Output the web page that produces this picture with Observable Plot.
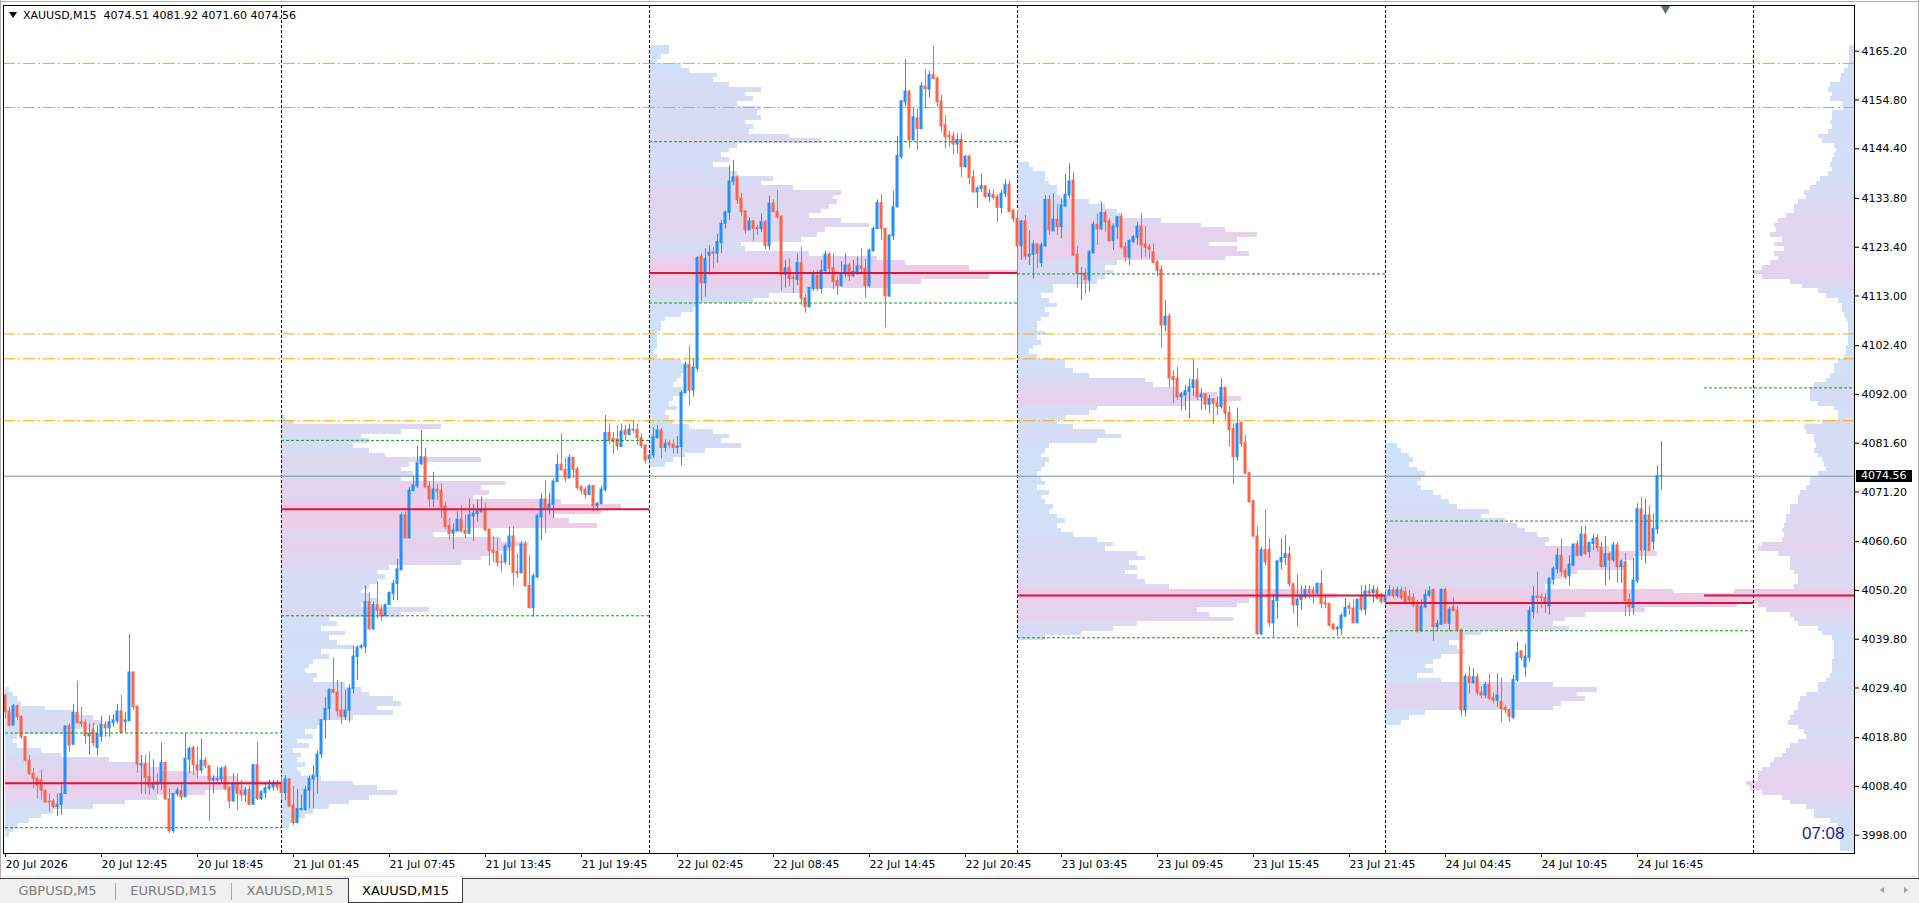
<!DOCTYPE html>
<html><head><meta charset="utf-8">
<script src="https://cdn.jsdelivr.net/npm/d3@7"></script>
<script src="https://cdn.jsdelivr.net/npm/@observablehq/plot@0.6"></script>
<style>
html,body{margin:0;padding:0;background:#fff;}
body{width:1919px;height:903px;position:relative;overflow:hidden;font-family:"DejaVu Sans",sans-serif;}
#chart{position:absolute;left:0;top:0;}
#title{position:absolute;left:9px;top:9px;font-size:11px;line-height:13px;white-space:pre;color:#000;}
#title .tri{display:inline-block;width:0;height:0;border-left:4px solid transparent;border-right:4px solid transparent;border-top:6px solid #000;margin-right:6px;vertical-align:1px;}
#bidlabel{position:absolute;left:1856px;width:56px;height:12px;background:#000;color:#fff;font-size:11px;line-height:12px;padding-left:5px;box-sizing:border-box;}
#tabs{position:absolute;left:0;top:878px;width:1919px;height:25px;background:#f0f0f0;border-top:1px solid #3c3c3c;box-sizing:border-box;font-size:13px;}
.tab{position:absolute;top:0;height:24px;line-height:24px;text-align:center;color:#7c7c7c;}
.tab.active{background:#fff;color:#000;border:1px solid #3c3c3c;border-top:none;top:-1px;height:25px;line-height:25px;box-sizing:border-box;}
.sep{position:absolute;top:4px;width:1px;height:17px;background:#a8a8a8;}
.arrL{position:absolute;top:8px;left:1880px;width:0;height:0;border-top:3px solid transparent;border-bottom:3px solid transparent;border-right:4px solid #a0a0a0;}
.arrR{position:absolute;top:8px;left:1904px;width:0;height:0;border-top:3px solid transparent;border-bottom:3px solid transparent;border-left:4px solid #a0a0a0;}
.edge{position:absolute;background:#b0b0b0;}
</style></head><body>
<div id="chart"></div>
<div class="edge" style="left:0;top:1px;width:1919px;height:1px;"></div>
<div class="edge" style="left:0;top:0;width:1px;height:878px;"></div>
<div class="edge" style="left:1918px;top:0;width:1px;height:878px;"></div>
<div class="edge" style="left:0;top:876px;width:1919px;height:1px;background:#e2e2e2;"></div>
<div id="title"></div>
<div id="bidlabel"></div>
<div id="tabs"></div>
<script>
// ---------- time structure ----------
const dayStart = [0, 69, 161, 253, 345];
const dayEnd = [69, 161, 253, 345, 437];
const timeTickLabels = ["20 Jul 2026","20 Jul 12:45","20 Jul 18:45","21 Jul 01:45","21 Jul 07:45","21 Jul 13:45","21 Jul 19:45","22 Jul 02:45","22 Jul 08:45","22 Jul 14:45","22 Jul 20:45","23 Jul 03:45","23 Jul 09:45","23 Jul 15:45","23 Jul 21:45","24 Jul 04:45","24 Jul 10:45","24 Jul 16:45"];
const barsPerTick = 24;
const priceTicks = [4165.20,4154.80,4144.40,4133.80,4123.40,4113.00,4102.40,4092.00,4081.60,4071.20,4060.60,4050.20,4039.80,4029.40,4018.80,4008.40,3998.00];
const symbolName = "XAUUSD,M15";
const countdown = "07:08";
const tabNames = ["GBPUSD,M5","EURUSD,M15","XAUUSD,M15","XAUUSD,M15"];

// ---------- candles (M15) ----------
const open20 = [4027.8,4024.4,4021.4,4025.5,4023.2,4018.9,4013.9,4011.1,4010.0,4009.7,4007.5,4005.2,4005.2,4004.0,4004.5,4006.8,4021.2,4017.3,4024.1,4022.1,4022.0,4019.1,4020.5,4016.6,4019.0,4021.5,4020.8,4021.9,4022.3,4024.4,4022.1,4022.3,4032.7,4025.4,4012.9,4013.1,4010.4,4008.0,4009.3,4009.0,4013.4,4005.7,3998.9,4006.8,4007.4,4006.1,4014.1,4016.6,4012.9,4011.8,4013.9,4012.7,4009.7,4009.8,4009.9,4012.4,4008.1,4005.2,4009.1,4007.5,4006.5,4007.7,4004.5,4012.9,4005.7,4007.0,4007.9,4008.2,4009.0];
const high20 = [4028.1,4025.3,4025.9,4025.8,4023.5,4019.0,4015.0,4012.2,4010.4,4011.9,4007.7,4006.8,4005.7,4006.8,4008.7,4021.3,4021.7,4025.8,4030.8,4025.3,4022.6,4021.7,4021.9,4021.4,4023.3,4022.1,4023.5,4023.7,4025.9,4027.8,4024.2,4040.8,4032.8,4025.5,4015.0,4015.0,4015.8,4014.1,4011.1,4017.6,4013.6,4007.9,4006.8,4008.1,4009.1,4019.6,4016.8,4017.0,4016.9,4018.5,4014.6,4012.9,4010.7,4012.4,4012.5,4012.9,4008.2,4011.1,4011.1,4009.7,4008.2,4008.5,4013.1,4017.8,4007.5,4008.9,4009.7,4009.7,4009.7];
const low20 = [4022.8,4021.0,4021.2,4022.5,4018.5,4013.6,4010.7,4007.9,4005.7,4005.5,4004.8,4002.9,4003.6,4002.0,4002.2,4006.7,4015.7,4017.1,4021.7,4021.0,4017.3,4015.0,4016.8,4014.9,4017.8,4018.9,4018.9,4021.0,4021.7,4019.7,4019.8,4022.2,4024.6,4011.2,4006.8,4006.7,4006.5,4007.5,4006.8,4007.5,4005.4,3998.3,3998.4,4006.2,4005.4,4006.0,4011.1,4010.7,4010.0,4011.1,4012.2,4001.0,4006.8,4009.3,4009.1,4007.5,4003.6,4005.0,4003.3,4005.2,4005.0,4004.3,4004.3,4005.4,4005.4,4005.7,4007.5,4007.5,4007.4];
const close20 = [4024.2,4021.4,4025.5,4023.2,4018.9,4013.9,4011.1,4010.0,4008.6,4007.5,4005.0,4005.0,4004.0,4004.5,4006.8,4021.2,4017.1,4024.1,4021.9,4021.7,4019.1,4019.6,4017.6,4019.6,4021.5,4020.8,4022.1,4022.5,4024.4,4019.8,4022.5,4032.7,4025.3,4013.1,4013.1,4010.2,4008.2,4009.0,4008.8,4013.4,4005.7,3998.9,4006.8,4007.5,4006.1,4014.3,4016.4,4012.9,4011.8,4013.9,4012.7,4009.7,4010.0,4010.0,4012.2,4007.9,4005.2,4009.1,4006.8,4006.5,4007.5,4004.5,4012.9,4005.7,4007.2,4008.0,4008.4,4009.0,4008.2];

const open21 = [4009.1,4007.0,4009.9,4004.3,4000.6,4003.4,4003.4,4007.5,4009.9,4010.5,4015.2,4022.5,4024.9,4029.0,4028.4,4024.6,4023.2,4024.6,4029.2,4036.0,4038.0,4038.1,4047.7,4041.9,4047.1,4046.1,4044.7,4047.1,4049.5,4051.6,4054.5,4066.2,4061.3,4071.4,4072.4,4077.1,4078.6,4072.4,4069.6,4071.7,4071.4,4068.1,4063.9,4062.3,4062.8,4065.3,4063.0,4062.3,4066.0,4066.5,4066.9,4067.5,4063.2,4058.7,4058.4,4056.2,4056.2,4059.4,4061.7,4054.1,4053.9,4060.0,4051.2,4046.4,4053.0,4065.8,4069.6,4067.7,4068.5,4073.3,4077.0,4075.9,4074.1,4078.5,4076.0,4072.2,4071.7,4070.6,4072.4,4068.2,4068.6,4071.6,4083.8,4082.5,4082.4,4080.8,4084.3,4083.4,4084.5,4084.4,4082.7,4081.1];
const high21 = [4010.4,4010.7,4010.0,4008.4,4007.7,4006.5,4008.4,4010.7,4012.8,4015.9,4022.6,4027.4,4029.2,4035.8,4031.0,4030.6,4028.9,4030.1,4038.4,4038.4,4038.6,4051.2,4049.8,4047.7,4052.1,4047.1,4047.3,4049.8,4052.3,4056.8,4066.7,4066.9,4072.2,4074.6,4080.9,4084.3,4080.5,4073.4,4075.4,4072.8,4072.9,4069.0,4065.5,4064.4,4067.0,4068.3,4066.2,4069.7,4068.5,4069.5,4070.1,4068.7,4063.2,4061.6,4061.3,4057.9,4060.1,4063.7,4063.8,4058.0,4060.7,4060.6,4057.6,4053.7,4066.5,4070.8,4073.6,4071.0,4073.9,4079.1,4083.6,4078.4,4079.1,4078.6,4076.5,4072.6,4072.2,4072.7,4072.6,4069.0,4072.4,4087.5,4085.7,4083.9,4085.4,4085.7,4085.4,4085.7,4086.4,4085.7,4083.6,4081.3];
const low21 = [4005.4,4005.4,4004.0,4000.1,4000.4,4003.1,4003.1,4003.6,4003.6,4006.8,4014.3,4018.5,4022.5,4028.1,4023.2,4021.6,4022.5,4022.1,4028.1,4031.0,4037.6,4036.7,4041.7,4041.7,4044.1,4043.6,4044.6,4047.0,4048.0,4048.0,4054.4,4061.2,4061.2,4071.2,4071.9,4076.8,4071.9,4067.9,4067.9,4069.4,4065.5,4063.2,4060.9,4058.9,4062.8,4062.5,4061.2,4062.3,4060.7,4064.8,4066.7,4062.8,4055.4,4056.2,4055.2,4054.1,4055.6,4055.5,4051.1,4052.8,4053.7,4050.9,4046.4,4044.5,4052.7,4060.9,4062.3,4066.3,4065.5,4073.3,4075.8,4073.3,4074.0,4074.1,4071.5,4070.6,4069.7,4070.4,4066.9,4067.0,4068.5,4071.2,4081.3,4079.3,4080.0,4080.8,4082.2,4083.2,4083.6,4081.1,4080.5,4077.2];
const close21 = [4007.0,4009.9,4004.1,4000.6,4003.6,4003.6,4007.7,4010.0,4010.7,4015.2,4022.5,4024.9,4029.0,4028.3,4024.4,4023.2,4024.6,4029.2,4036.1,4038.0,4038.3,4047.7,4041.9,4047.1,4045.9,4044.7,4047.1,4049.7,4051.6,4054.7,4066.2,4061.3,4071.5,4072.6,4077.3,4078.6,4072.2,4069.6,4071.7,4071.3,4067.9,4063.7,4062.2,4063.0,4065.3,4062.8,4062.3,4066.2,4066.6,4067.0,4067.2,4063.0,4058.6,4058.2,4056.1,4056.1,4059.6,4061.7,4053.9,4053.9,4060.0,4051.1,4046.4,4053.2,4066.0,4069.6,4067.7,4068.5,4073.4,4077.0,4075.8,4074.1,4078.5,4075.9,4072.0,4071.5,4070.6,4072.4,4068.2,4068.7,4071.7,4083.8,4082.2,4081.8,4080.9,4084.1,4083.4,4084.5,4084.3,4082.7,4081.0,4077.9];

const open22 = [4078.2,4079.0,4082.7,4084.3,4080.6,4081.6,4081.3,4080.6,4080.8,4092.3,4098.2,4092.8,4097.5,4121.4,4115.7,4121.6,4122.3,4122.0,4124.3,4128.4,4130.7,4137.4,4138.3,4133.8,4131.0,4127.0,4128.9,4127.5,4127.3,4128.7,4123.6,4132.7,4131.0,4129.9,4117.5,4118.9,4116.9,4116.4,4120.0,4112.5,4110.6,4114.5,4117.3,4114.5,4118.3,4121.8,4118.9,4116.2,4115.1,4117.6,4119.5,4117.2,4118.0,4119.3,4118.8,4115.1,4122.6,4127.3,4132.8,4127.3,4112.9,4125.7,4131.9,4142.6,4154.3,4156.6,4146.2,4150.9,4148.6,4157.7,4157.0,4160.1,4159.4,4154.5,4149.4,4147.2,4147.0,4145.3,4146.3,4140.5,4142.7,4138.3,4135.1,4135.8,4136.4,4134.1,4134.6,4134.1,4131.8,4134.8,4136.7,4131.2];
const high22 = [4079.3,4085.0,4085.4,4084.7,4082.3,4082.2,4082.3,4083.0,4092.8,4098.9,4102.4,4099.6,4121.4,4122.0,4123.1,4123.8,4123.4,4126.2,4129.1,4131.1,4140.8,4141.9,4138.7,4134.9,4131.2,4129.7,4129.1,4128.0,4130.5,4129.1,4134.3,4133.5,4135.5,4130.1,4120.6,4120.9,4117.4,4122.0,4123.4,4113.5,4114.9,4118.3,4118.4,4120.6,4122.6,4122.3,4122.0,4117.0,4120.3,4122.0,4120.0,4120.6,4121.3,4123.0,4120.8,4123.0,4127.7,4133.5,4134.6,4127.3,4126.1,4135.3,4147.0,4154.7,4163.4,4156.8,4153.0,4152.9,4158.5,4161.2,4160.9,4166.2,4159.7,4155.8,4151.5,4148.1,4147.9,4147.6,4147.7,4143.0,4143.0,4139.8,4136.3,4139.0,4136.4,4135.7,4135.7,4134.6,4135.5,4137.8,4137.6,4131.4];
const low22 = [4077.4,4078.3,4082.5,4078.3,4079.7,4080.4,4079.3,4079.3,4076.8,4092.1,4089.5,4091.4,4096.8,4111.7,4112.7,4117.4,4118.8,4119.9,4122.0,4127.3,4129.1,4136.6,4132.5,4129.9,4126.2,4127.0,4124.6,4125.9,4126.6,4122.8,4122.7,4130.7,4129.4,4114.0,4114.7,4114.9,4113.5,4115.2,4111.0,4109.3,4110.5,4114.0,4114.0,4113.5,4118.1,4117.7,4114.3,4113.1,4114.9,4116.9,4116.1,4117.0,4117.4,4117.7,4112.5,4114.7,4122.3,4127.2,4124.8,4106.2,4112.7,4124.8,4131.8,4142.2,4153.4,4144.5,4146.0,4144.0,4148.4,4152.9,4155.2,4159.1,4153.3,4147.8,4144.4,4144.7,4143.0,4143.3,4138.3,4140.3,4136.7,4134.9,4131.7,4135.1,4133.7,4133.0,4133.4,4128.7,4130.5,4133.9,4130.7,4128.7];
const close22 = [4078.9,4082.9,4084.3,4080.6,4081.5,4081.1,4080.6,4080.9,4092.3,4098.2,4092.8,4097.7,4121.1,4115.7,4120.9,4122.2,4122.0,4124.5,4128.4,4130.8,4137.4,4138.3,4133.4,4130.9,4127.0,4128.9,4127.3,4127.2,4128.7,4123.6,4132.7,4130.9,4129.8,4117.5,4118.9,4116.7,4116.6,4120.0,4112.4,4110.6,4114.7,4117.4,4114.5,4118.4,4121.8,4118.8,4116.0,4115.1,4117.7,4119.5,4117.2,4118.1,4119.3,4118.8,4115.1,4122.7,4127.3,4132.8,4127.3,4112.9,4125.9,4131.9,4142.8,4154.5,4156.6,4146.2,4151.1,4148.6,4157.7,4157.1,4160.1,4159.3,4154.3,4149.2,4146.9,4146.9,4145.3,4146.3,4140.5,4142.7,4138.2,4135.1,4135.9,4136.4,4134.1,4134.8,4133.9,4131.8,4134.8,4136.6,4130.9,4129.4];

const open23 = [4129.4,4123.6,4128.9,4121.4,4121.8,4124.0,4120.0,4123.6,4133.5,4126.8,4129.3,4127.7,4132.1,4134.4,4137.6,4121.8,4117.6,4117.8,4116.3,4122.1,4128.2,4127.2,4130.7,4128.9,4124.7,4127.7,4129.8,4123.4,4121.1,4124.5,4125.4,4127.8,4124.0,4123.4,4122.3,4120.2,4118.6,4106.7,4108.6,4095.7,4095.4,4091.4,4091.8,4092.5,4093.4,4095.0,4091.4,4092.0,4089.8,4091.0,4090.2,4089.3,4093.4,4088.0,4084.6,4078.6,4085.9,4081.6,4075.2,4069.2,4061.7,4040.8,4058.8,4058.8,4043.2,4047.9,4056.2,4057.1,4057.9,4051.5,4047.0,4048.2,4048.8,4050.3,4050.2,4049.6,4051.6,4047.5,4047.3,4042.9,4041.9,4042.0,4044.6,4046.8,4046.3,4043.2,4048.8,4046.1,4050.0,4049.6,4050.2,4049.3];
const high23 = [4131.2,4129.1,4130.2,4126.9,4124.8,4124.1,4124.3,4134.4,4134.4,4134.8,4132.6,4133.7,4139.0,4141.2,4139.4,4123.6,4119.1,4118.8,4122.7,4128.9,4130.5,4133.0,4131.2,4129.4,4128.4,4129.9,4130.6,4124.3,4125.0,4125.9,4128.7,4130.5,4127.8,4124.0,4124.1,4120.6,4119.5,4112.0,4109.2,4097.1,4097.8,4092.5,4093.9,4095.3,4099.4,4097.4,4093.2,4092.1,4091.8,4091.0,4091.4,4095.3,4093.5,4089.4,4085.7,4089.1,4086.3,4083.2,4075.3,4069.5,4063.8,4059.3,4067.4,4061.2,4049.4,4056.7,4061.2,4061.9,4059.6,4051.6,4053.4,4051.2,4051.2,4051.2,4050.9,4051.8,4054.6,4049.1,4047.5,4043.2,4042.5,4045.3,4048.5,4047.5,4048.2,4048.4,4051.2,4051.2,4051.5,4051.2,4050.9,4049.6];
const low23 = [4100.6,4120.6,4120.6,4119.5,4116.6,4118.8,4119.1,4123.4,4125.9,4126.7,4125.9,4125.2,4131.9,4133.7,4121.4,4114.7,4112.0,4113.4,4113.8,4122.0,4123.8,4127.0,4126.6,4124.3,4122.7,4125.0,4123.0,4120.2,4119.5,4124.1,4123.8,4120.9,4121.3,4120.9,4119.9,4117.0,4101.7,4105.3,4093.4,4090.0,4090.7,4088.6,4088.6,4086.8,4091.6,4090.7,4088.6,4088.6,4087.9,4085.6,4087.5,4088.9,4086.6,4080.7,4072.8,4077.8,4080.7,4074.9,4068.8,4061.5,4040.6,4040.6,4055.5,4042.4,4040.1,4044.1,4054.6,4055.5,4050.9,4045.3,4042.4,4045.9,4048.4,4048.4,4047.3,4049.1,4046.3,4046.3,4042.4,4041.6,4040.4,4040.6,4044.5,4044.8,4043.1,4043.1,4045.6,4044.8,4048.9,4047.5,4048.2,4047.3];
const close23 = [4123.6,4128.9,4121.4,4121.8,4124.0,4122.0,4123.8,4133.5,4127.0,4129.3,4127.7,4132.3,4134.6,4137.4,4121.6,4117.7,4117.7,4116.4,4122.3,4128.2,4127.2,4130.7,4128.7,4124.7,4127.8,4129.8,4123.3,4121.3,4124.7,4125.5,4127.8,4123.8,4123.3,4122.9,4120.0,4118.4,4106.7,4108.6,4095.4,4095.1,4091.4,4092.0,4092.7,4093.5,4095.0,4091.4,4092.0,4089.8,4091.0,4090.0,4089.3,4093.4,4087.9,4084.4,4078.6,4085.7,4081.4,4075.1,4069.0,4061.7,4040.9,4058.8,4056.2,4043.2,4048.0,4056.4,4057.1,4057.9,4051.5,4047.0,4048.2,4049.1,4050.3,4049.6,4049.5,4051.6,4047.3,4047.2,4042.7,4041.9,4042.2,4044.8,4046.5,4046.3,4043.2,4048.2,4046.1,4050.0,4049.5,4050.3,4048.4,4047.7];

const open24 = [4047.7,4049.1,4050.2,4049.0,4050.2,4049.8,4048.8,4048.6,4047.0,4041.5,4046.6,4049.1,4050.3,4042.4,4042.9,4050.3,4043.1,4046.6,4045.9,4041.7,4024.6,4031.8,4030.4,4031.7,4028.4,4027.8,4030.1,4027.2,4026.7,4026.4,4025.1,4024.7,4023.0,4031.0,4037.2,4033.8,4035.8,4045.6,4048.9,4048.8,4048.6,4046.8,4052.5,4054.7,4057.6,4054.3,4053.2,4055.5,4060.1,4057.6,4062.1,4058.4,4060.1,4061.4,4059.3,4055.2,4057.9,4056.6,4059.8,4055.2,4056.2,4048.2,4046.5,4052.2,4067.5,4058.7,4066.2,4060.5,4063.2,4074.51];
const high24 = [4050.2,4051.2,4050.8,4050.9,4050.9,4050.9,4050.2,4049.5,4048.1,4048.2,4050.3,4051.0,4050.5,4043.8,4050.5,4050.7,4046.6,4048.6,4046.8,4042.0,4032.4,4034.0,4033.5,4032.4,4029.6,4030.6,4032.4,4028.3,4032.4,4031.6,4025.7,4024.9,4032.1,4039.2,4037.4,4038.8,4046.6,4051.0,4054.1,4049.5,4049.5,4052.9,4055.2,4059.2,4061.2,4054.8,4057.6,4060.1,4060.8,4063.8,4064.0,4060.5,4062.1,4062.1,4060.5,4061.7,4058.3,4060.5,4060.5,4056.7,4058.1,4049.5,4057.1,4068.7,4070.1,4069.7,4068.3,4066.5,4076.8,4081.92];
const low24 = [4047.3,4048.8,4048.5,4048.6,4048.1,4047.2,4047.2,4046.6,4041.1,4041.3,4046.3,4048.6,4039.3,4041.5,4042.7,4042.9,4041.5,4045.6,4041.3,4023.2,4023.2,4028.1,4030.3,4027.8,4027.1,4027.1,4026.7,4026.0,4025.3,4022.1,4023.9,4022.1,4022.6,4030.6,4035.2,4031.7,4034.9,4044.1,4045.2,4046.3,4045.3,4044.9,4051.3,4053.7,4053.0,4052.5,4051.2,4055.2,4057.3,4057.4,4057.6,4057.1,4058.7,4058.4,4055.0,4051.2,4052.3,4056.2,4051.7,4051.7,4044.6,4044.6,4044.9,4051.7,4056.6,4055.9,4058.6,4058.6,4062.1,4071.60];
const close24 = [4049.1,4050.2,4049.0,4050.2,4048.6,4047.5,4048.1,4047.0,4041.5,4046.8,4049.2,4050.0,4042.4,4043.1,4050.3,4043.1,4046.1,4045.8,4041.7,4024.6,4031.8,4030.4,4031.7,4028.3,4027.8,4030.1,4027.1,4026.7,4027.8,4024.9,4024.6,4023.2,4031.1,4036.8,4035.8,4036.1,4045.8,4048.9,4048.6,4048.6,4047.3,4052.7,4054.8,4057.6,4054.1,4053.0,4055.7,4060.0,4057.6,4062.1,4058.0,4060.3,4061.2,4059.3,4055.2,4057.9,4056.6,4059.8,4055.2,4056.4,4048.0,4046.6,4052.3,4067.5,4058.7,4066.2,4058.6,4063.3,4074.6,4074.56];

// ---------- daily volume profiles (1.0 price rows, low -> high) ----------
const profileLow = [3998, 4000, 4077, 4040, 4022];
const profile20 = [1,2,3,6,9,12,22,30,38,50,60,69,58,48,39,36,26,14,9,3,2,3,15,22,24,22,17,10,4,3,2,1];
const profile21 = [2,4,6,8,12,17,22,29,24,18,10,5,4,6,4,5,3,7,4,8,6,9,10,18,28,24,30,28,22,20,16,8,9,6,7,8,12,10,18,14,12,16,10,14,12,30,37,20,24,22,20,22,24,26,24,27,45,50,52,58,62,55,38,45,79,72,68,80,85,70,48,52,50,56,30,33,30,32,50,26,22,18,22,20,30,40,3,1];
const profile22 = [4,6,9,14,23,18,20,16,10,6,5,4,7,5,6,9,8,6,7,8,9,10,8,2,1,2,2,2,2,3,3,4,8,11,12,26,30,40,60,68,85,92,80,64,57,40,24,23,38,42,44,55,48,40,43,45,47,46,48,36,28,31,22,20,16,20,18,20,22,43,35,25,26,24,28,27,28,22,26,24,28,20,16,17,10,8,2,3,5,5];
const profile23 = [7,16,24,30,54,48,45,55,58,80,72,38,32,30,27,30,28,32,30,22,24,20,14,11,10,12,10,8,9,7,6,8,5,7,6,5,6,7,8,6,7,8,20,26,22,14,10,12,18,20,42,56,50,40,34,32,18,14,12,12,5,3,4,6,5,7,5,5,6,8,7,10,8,6,9,9,20,22,24,22,25,52,58,55,48,55,60,52,46,36,26,25,22,18,11,10,10,8,7,7,4,3];
const profile24 = [4,6,10,42,44,50,48,53,42,14,8,12,10,12,14,20,18,16,20,24,46,42,45,50,65,88,91,84,72,40,42,44,48,60,58,62,68,56,40,41,38,35,33,30,24,26,18,16,14,12,9,8,9,10,8,6,7,6,4,3];
// whole-range profile on the right edge
const rangeProfileLow = 3995;
const rangeProfile = [3.5,3.5,3.5,4,4,4,6,10,10,12,16,18,23,26,27,24,24,23,21,20,18,17,16,14,12,12.5,14,16.5,16,15,14,14,13.5,12,9,9,7,6,5.5,5.5,5.5,5,5,5,5,5.5,8,9,14,15,16,22,24,32,37.5,30,15,14,14,15,16,16,16,19,24,23,18,17.5,18,17.5,17,17,16,16,14,14,13.5,12,11,11,9,7,7.5,8,9,10,9.5,10,10,12,12.5,8,4,4,5,9,11,11,11,10,7,6,5,5,4,2.5,2,2,1.5,1.5,1.5,1.5,1.5,2,2.5,3,3,4,7,9,13,16,23,25,23,21,19,20,17.5,20,18,21,19.5,20,19,17,15,15,14,12,12.5,11,9.5,8.5,6.5,5.5,6,5.5,5,4.5,5,8,9,6.5,5.5,6,5.5,5.5,2.5,3,6,5.5,6.5,6,3.5,3.2,2.5,1.5,1.2,1.2,1.2,1.2];

// ---------- levels ----------
const pocPrice = [4009.1, 4067.5, 4117.9, 4049.1, 4047.5];
const vaHigh = [4019.8, 4082.2, 4145.9, 4117.7, 4065.0];
const vaLow = [3999.6, 4044.8, 4111.5, 4040.1, 4041.6];
const rangePOC = 4049.1;
const rangeVAH = 4093.4;
const levels = [4162.6, 4153.2, 4104.9, 4099.6, 4086.4];

// ---------- build ----------
const BULL = "#1e90ff", BEAR = "#ff6347";
const xDomain = [-0.5, 462.25];
const yDomain = [3994.10, 4174.95];

const opens = [open20, open21, open22, open23, open24];
const highs = [high20, high21, high22, high23, high24];
const lows = [low20, low21, low22, low23, low24];
const closes = [close20, close21, close22, close23, close24];
const candles = [];
for (let d = 0; d < 5; d++) {
  const n = Math.min(opens[d].length, highs[d].length, lows[d].length, closes[d].length);
  for (let k = 0; k < n; k++) {
    candles.push({i: dayStart[d] + k, o: opens[d][k], h: highs[d][k], l: lows[d][k], c: closes[d][k]});
  }
}
const last = candles[candles.length - 1];
const bid = last.c;
const col = d => d.c >= d.o ? BULL : BEAR;

const profColor = d3.interpolateRgb("#cde2fa", "#f2cae6");
const dayProfiles = [profile20, profile21, profile22, profile23, profile24];
const profRows = [];
dayProfiles.forEach((vals, d) => {
  const mx = d3.max(vals);
  vals.forEach((v, k) => profRows.push({x1: dayStart[d], x2: dayStart[d] + v, p: profileLow[d] + k, fill: profColor(v / mx)}));
});
const rangeMax = d3.max(rangeProfile);
rangeProfile.forEach((v, k) => profRows.push({x1: xDomain[1] - v, x2: xDomain[1], p: rangeProfileLow + k, fill: profColor(v / rangeMax)}));

const pocRows = pocPrice.map((p, d) => ({p, x1: dayStart[d], x2: dayEnd[d]}));
pocRows.push({p: rangePOC, x1: xDomain[1] - rangeMax, x2: xDomain[1]});
const vaRows = [];
vaHigh.forEach((p, d) => vaRows.push({p, x1: dayStart[d], x2: dayEnd[d]}));
vaLow.forEach((p, d) => vaRows.push({p, x1: dayStart[d], x2: dayEnd[d]}));
vaRows.push({p: rangeVAH, x1: xDomain[1] - rangeMax, x2: xDomain[1]});

const timeTickBars = timeTickLabels.map((_, k) => k * barsPerTick);
const labelByBar = new Map(timeTickBars.map((b, k) => [b, timeTickLabels[k]]));

const plot = Plot.plot({
  width: 1919, height: 878,
  marginLeft: 3, marginRight: 65, marginTop: 5, marginBottom: 25,
  style: {fontFamily: '"DejaVu Sans", sans-serif', fontSize: "11px", background: "#fff", color: "#000"},
  x: {type: "linear", domain: xDomain, axis: null},
  y: {type: "linear", domain: yDomain, axis: null},
  color: {type: "identity"},
  marks: [
    Plot.rect(profRows, {x1: "x1", x2: "x2", y1: d => d.p - 0.5, y2: d => d.p + 0.5, fill: "fill", shapeRendering: "crispEdges"}),
    Plot.ruleX(dayEnd, {stroke: "#000", strokeDasharray: "3,2"}),
    Plot.ruleY(levels, {stroke: "#ffa500", strokeDasharray: "12,3,2,3"}),
    Plot.ruleY([bid], {stroke: "#7f8ea0"}),
    Plot.ruleX(candles, {x: "i", y1: "l", y2: "h", stroke: col}),
    Plot.rect(candles, {x1: d => d.i - 0.5, x2: d => d.i + 0.5, y1: "o", y2: "c", insetLeft: 1, insetRight: 1, fill: col, stroke: col, strokeWidth: 1}),
    Plot.ruleY(vaRows, {y: "p", x1: "x1", x2: "x2", stroke: "#129a12", strokeDasharray: "3,2"}),
    Plot.ruleY(pocRows, {y: "p", x1: "x1", x2: "x2", stroke: "#dc143c", strokeWidth: 2}),
    Plot.dot([0], {x: () => candles.length, frameAnchor: "top", symbol: "triangle", rotate: 180, r: 3.6, fill: "#5b6b7b", dy: 3}),
    Plot.text([countdown], {frameAnchor: "bottom-right", text: d => d, textAnchor: "end", lineAnchor: "middle", dx: -10, dy: -20, fontFamily: '"Liberation Sans", Arial, sans-serif', fontSize: 17, fill: "#1a2396"}),
    Plot.frame({stroke: "#000"}),
    Plot.axisX(timeTickBars, {anchor: "bottom", tickSize: 4, tickPadding: 3, tickFormat: d => labelByBar.get(d), textAnchor: "start", fontSize: 11, color: "#000", label: null}),
    Plot.axisY(priceTicks, {anchor: "right", tickSize: 4, tickPadding: 3, tickFormat: d => d.toFixed(2), fontSize: 11, color: "#000", label: null})
  ]
});
document.getElementById("chart").appendChild(plot);

// title with last bar OHLC
document.getElementById("title").innerHTML = '<span class="tri"></span>' + symbolName + "  " +
  [last.o, last.h, last.l, last.c].map(v => v.toFixed(2)).join(" ");

// bid price label on the price axis
const yb = plot.scale("y").apply(bid);
const bl = document.getElementById("bidlabel");
bl.textContent = bid.toFixed(2);
bl.style.top = (yb - 6) + "px";

// bottom tabs
const tabs = document.getElementById("tabs");
const tabGeom = [[0,115],[116,115],[232,116],[348,115]];
tabNames.forEach((t, k) => {
  const el = document.createElement("div");
  el.className = "tab" + (k === tabNames.length - 1 ? " active" : "");
  el.style.left = tabGeom[k][0] + "px";
  el.style.width = tabGeom[k][1] + "px";
  el.textContent = t;
  tabs.appendChild(el);
});
[115, 231].forEach(x => { const s = document.createElement("div"); s.className = "sep"; s.style.left = x + "px"; tabs.appendChild(s); });
const aL = document.createElement("div"); aL.className = "arrL"; tabs.appendChild(aL);
const aR = document.createElement("div"); aR.className = "arrR"; tabs.appendChild(aR);
</script>
</body></html>
